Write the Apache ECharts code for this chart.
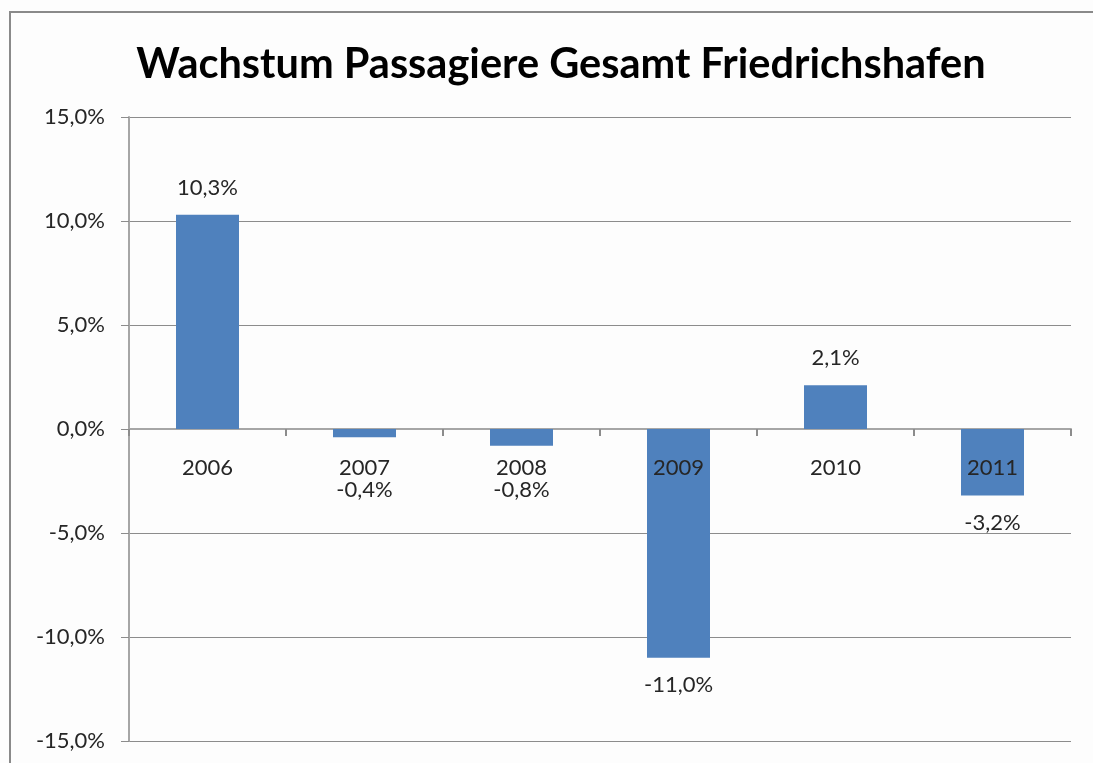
<!DOCTYPE html>
<html>
<head>
<meta charset="utf-8">
<script src="https://cdn.jsdelivr.net/npm/echarts@6/dist/echarts.min.js"></script>
<style>
  html, body { margin: 0; padding: 0; background: #fff; }
  #chart { width: 1093px; height: 763px; }
</style>
</head>
<body>
<div id="chart"></div>
<script>
const years = ['2006', '2007', '2008', '2009', '2010', '2011']
const growth = [10.3, -0.4, -0.8, -11.0, 2.1, -3.2]
const yTicks = [-15, -10, -5, 0, 5, 10, 15]

const fmt = (v) => v.toFixed(1).replace('.', ',') + '%'
const textColor = '#262626'
const font = 'Lato'

const chart = echarts.init(document.getElementById('chart'))

// category names sit just under the zero line, like the Excel original
const yearAnchors = years.map((y) => [y, 0])

const option = {
    backgroundColor: '#fdfdfd',
    animation: false,
    title: {
        text: 'Wachstum Passagiere Gesamt Friedrichshafen',
        left: 556,
        top: 39,
        textAlign: 'center',
        textStyle: {
            fontFamily: font,
            fontWeight: 'bold',
            fontSize: 41.5,
            color: '#000'
        }
    },
    graphic: [
        {
            type: 'rect',
            shape: { x: 10, y: 12, width: 1200, height: 1000 },
            style: { fill: 'none', stroke: '#8a8a8a', lineWidth: 2 },
            silent: true
        }
    ],
    grid: { left: 129, right: 22, top: 117, bottom: 22, outerBoundsMode: 'none' },
    xAxis: {
        type: 'category',
        data: years,
        axisLine: { onZero: true, lineStyle: { color: '#a6a6a6', width: 2 } },
        axisTick: { show: true, length: 7, lineStyle: { color: '#8c8c8c', width: 2 } },
        axisLabel: { show: false }
    },
    yAxis: {
        type: 'value',
        min: yTicks[0],
        max: yTicks[yTicks.length - 1],
        interval: 5,
        axisLine: { show: true, lineStyle: { color: '#a6a6a6', width: 2 } },
        axisTick: { show: true, length: 8, lineStyle: { color: '#8c8c8c' } },
        splitLine: { lineStyle: { color: '#8c8c8c', width: 1 } },
        axisLabel: {
            margin: 24,
            fontFamily: font,
            fontSize: 22,
            color: textColor,
            formatter: (v) => fmt(v)
        }
    },
    series: [
        {
            type: 'bar',
            data: growth,
            barWidth: 63,
            itemStyle: { color: '#4f81bd' },
            label: {
                show: true,
                position: 'outside',
                distance: 16,
                fontFamily: font,
                fontSize: 22,
                color: textColor,
                formatter: (p) => fmt(p.value)
            },
            labelLayout: (params) => {
                // keep small negative labels clear of the category labels
                if (growth[params.dataIndex] < 0) {
                    const r = params.labelRect
                    const minTop = params.rect.y + 50
                    if (r.y < minTop) {
                        return {
                            x: params.rect.x + params.rect.width / 2,
                            y: minTop,
                            align: 'center',
                            verticalAlign: 'top'
                        }
                    }
                }
                return {}
            }
        },
        {
            type: 'scatter',
            data: yearAnchors,
            symbolSize: 0,
            silent: true,
            z: 5,
            itemStyle: { opacity: 1 },
            label: {
                show: true,
                position: 'bottom',
                distance: 28,
                fontFamily: font,
                fontSize: 22,
                color: textColor,
                opacity: 1,
                formatter: (p) => p.value[0]
            }
        }
    ]
}

chart.setOption(option)
</script>
</body>
</html>
